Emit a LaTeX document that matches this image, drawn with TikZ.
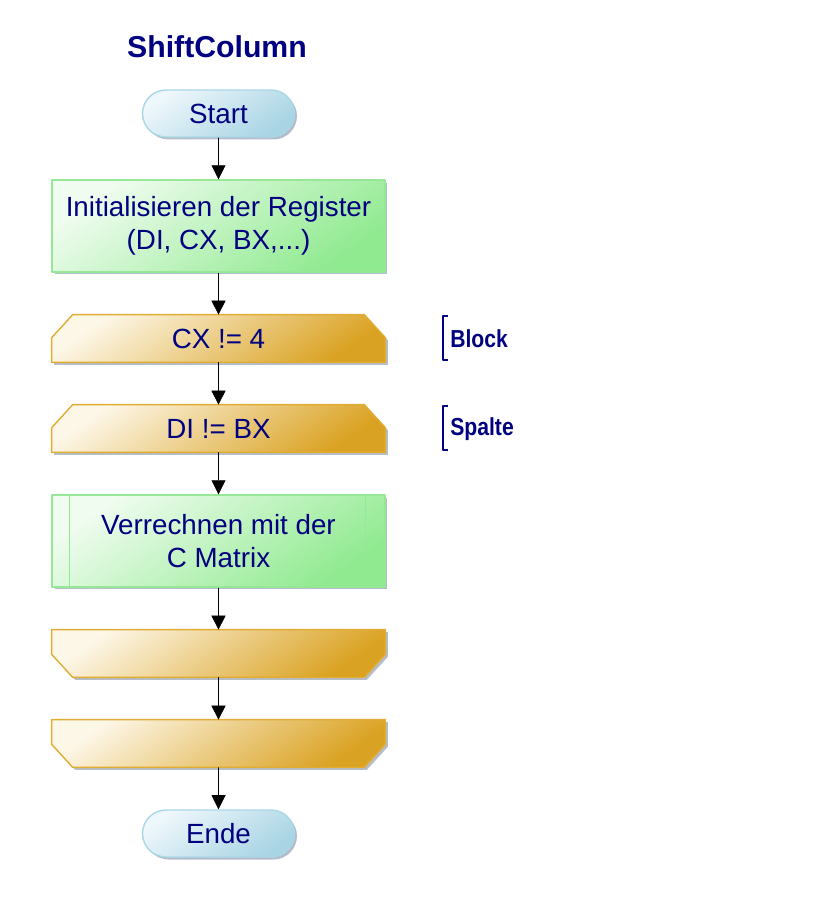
\documentclass[tikz,border=0pt]{standalone}
\usepackage{fontspec}
\setmainfont{Liberation Sans}
\usetikzlibrary{arrows.meta,shapes.misc,shadows,backgrounds}
\definecolor{navytext}{RGB}{0,0,128}
\definecolor{startlight}{RGB}{238,247,251}
\definecolor{startdark}{RGB}{168,212,228}
\definecolor{startline}{RGB}{170,215,230}
\definecolor{actlight}{RGB}{240,252,240}
\definecolor{actdark}{RGB}{144,234,144}
\definecolor{actline}{RGB}{150,232,150}
\definecolor{looplight}{RGB}{253,247,232}
\definecolor{loopdark}{RGB}{218,162,34}
\definecolor{loopline}{RGB}{224,172,50}
\definecolor{shadowcol}{RGB}{150,160,180}
\begin{document}
\begin{tikzpicture}[x=0.02cm, y=-0.02cm, line join=round,
    font=\fontsize{15.8}{18.7}\selectfont, text=navytext,
    boxshadow/.style={drop shadow={shadow xshift=0.05cm, shadow yshift=-0.05cm, fill=shadowcol, opacity=0.7}},
    terminal/.style={rounded rectangle, draw=startline, line width=0.8pt, left color=startlight, right color=startdark, shading angle=35, minimum width=3.04cm, minimum height=0.94cm, inner xsep=0pt, text width=2.5cm, align=center, boxshadow},
    action/.style={rectangle, draw=actline, line width=0.8pt, left color=actlight, right color=actdark, shading angle=35, minimum width=6.66cm, minimum height=1.84cm, align=center, boxshadow},
    loopbox/.style={rectangle, minimum width=6.66cm, minimum height=0.94cm, inner sep=0pt},
    loopfill/.style={draw=loopline, line width=0.8pt, left color=looplight, right color=loopdark, shading angle=35, boxshadow},
    flow/.style={draw=black, -{Triangle[width=8pt,length=8pt]}},
    bracket/.style={draw=navytext, line width=0.6pt},
    looplabel/.style={anchor=west, font=\bfseries\fontsize{14}{16}\selectfont, xscale=0.86, transform shape, inner sep=0pt}]
  \useasboundingbox (0,0) rectangle (825,900);

  \node[font=\bfseries\fontsize{17.2}{20}\selectfont] (title) at (217,47) {ShiftColumn};

  \node[terminal] (start) at (218.5,113.5) {Start};
  \node[action] (init) at (218.5,226) {Initialisieren der Register\\(DI, CX, BX,...)};
  \node[loopbox] (block) at (218.5,338.5) {CX != 4};
  \node[loopbox] (spalte) at (218.5,428.5) {DI != BX};
  \node[action] (calc) at (218.5,541) {Verrechnen mit der\\C Matrix};
  \node[loopbox] (spalteend) at (218.5,653.5) {};
  \node[loopbox] (blockend) at (218.5,743.5) {};
  \node[terminal] (ende) at (218.5,833.5) {Ende};

  % Schleifenkoepfe und -enden
  \begin{scope}[on background layer]
    \path[loopfill] ([xshift=0.42cm]block.north west) -- ([xshift=-0.42cm]block.north east) -- ([yshift=-0.46cm]block.north east) -- (block.south east) -- (block.south west) -- ([yshift=-0.46cm]block.north west) -- cycle;
    \path[loopfill] ([xshift=0.42cm]spalte.north west) -- ([xshift=-0.42cm]spalte.north east) -- ([yshift=-0.46cm]spalte.north east) -- (spalte.south east) -- (spalte.south west) -- ([yshift=-0.46cm]spalte.north west) -- cycle;
    \path[loopfill] (spalteend.north west) -- (spalteend.north east) -- ([yshift=0.46cm]spalteend.south east) -- ([xshift=-0.42cm]spalteend.south east) -- ([xshift=0.42cm]spalteend.south west) -- ([yshift=0.46cm]spalteend.south west) -- cycle;
    \path[loopfill] (blockend.north west) -- (blockend.north east) -- ([yshift=0.46cm]blockend.south east) -- ([xshift=-0.42cm]blockend.south east) -- ([xshift=0.42cm]blockend.south west) -- ([yshift=0.46cm]blockend.south west) -- cycle;
  \end{scope}

  % Unterprogramm-Striche
  \draw[actline, line width=0.8pt] ([xshift=0.36cm]calc.north west) -- ([xshift=0.36cm]calc.south west);
  \draw[actline, line width=0.8pt] ([xshift=-0.4cm]calc.north east) -- ([xshift=-0.4cm]calc.south east);

  \draw[flow] (start) -- (init);
  \draw[flow] (init) -- (block);
  \draw[flow] (block) -- (spalte);
  \draw[flow] (spalte) -- (calc);
  \draw[flow] (calc) -- (spalteend);
  \draw[flow] (spalteend) -- (blockend);
  \draw[flow] (blockend) -- (ende);

  % Schleifennamen
  \draw[bracket] (448,316) -- (443,316) -- (443,360) -- (448,360);
  \node[looplabel] (blocklabel) at (450,339) {Block};
  \draw[bracket] (448,406) -- (443,406) -- (443,450) -- (448,450);
  \node[looplabel] (spaltelabel) at (450,429) {Spalte};
\end{tikzpicture}
\end{document}
